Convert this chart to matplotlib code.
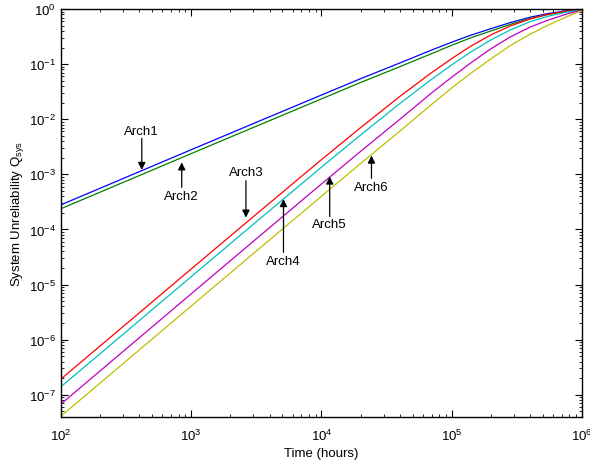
import numpy as np
import matplotlib
matplotlib.use("Agg")
import matplotlib.pyplot as plt

plt.rcParams['font.family'] = ['Liberation Sans', 'DejaVu Sans']
plt.rcParams['mathtext.fontset'] = 'custom'
plt.rcParams['mathtext.rm'] = 'Liberation Sans'
plt.rcParams['mathtext.it'] = 'Liberation Sans:italic'

# time points (hours) and unreliability values
hours = [1e2, 1e3, 3e3, 1e4, 2e4, 4e4, 7e4, 1e5, 1.4e5, 2e5, 2.8e5, 4e5, 5.5e5, 7.5e5, 1e6]

arch1 = [2.8e-4, 2.8e-3, 8.35e-3, 2.75e-2, 5.45e-2, 0.105, 0.18, 0.25, 0.335, 0.44, 0.565, 0.71, 0.83, 0.925, 0.98]
arch2 = [2.38e-4, 2.38e-3, 7.1e-3, 2.34e-2, 4.65e-2, 0.09, 0.155, 0.22, 0.30, 0.40, 0.525, 0.675, 0.80, 0.91, 0.975]
arch3 = [1.93e-7, 1.92e-5, 1.71e-4, 1.85e-3, 7.06e-3, 0.026, 0.070, 0.126, 0.212, 0.34, 0.49, 0.66, 0.80, 0.91, 0.985]
arch4 = [1.40e-7, 1.39e-5, 1.245e-4, 1.35e-3, 5.2e-3, 0.0193, 0.053, 0.097, 0.166, 0.275, 0.415, 0.59, 0.74, 0.87, 0.975]
arch5 = [6.8e-8, 6.8e-6, 6.1e-5, 6.7e-4, 2.62e-3, 0.010, 0.030, 0.058, 0.105, 0.19, 0.31, 0.47, 0.63, 0.80, 0.96]
arch6 = [4.1e-8, 4.08e-6, 3.66e-5, 4.0e-4, 1.58e-3, 6.1e-3, 0.0185, 0.037, 0.068, 0.125, 0.215, 0.35, 0.51, 0.71, 0.94]

series = [arch1, arch2, arch3, arch4, arch5, arch6]
colors = ['#0000ff', '#008000', '#ff0000', '#00bfbf', '#bf00bf', '#bfbf00']

# label text position, arrow tail, arrow tip (data coords)
labels = ['Arch1', 'Arch2', 'Arch3', 'Arch4', 'Arch5', 'Arch6']
label_t = [417, 845, 2630, 5107, 1.156e4, 2.42e4]
label_q = [6.18e-3, 3.99e-4, 1.09e-3, 2.70e-5, 1.23e-4, 5.81e-4]
tail_q = [4.5e-3, 5.81e-4, 7.66e-4, 3.84e-5, 1.71e-4, 8.46e-4]
tip_q = [1.2e-3, 1.65e-3, 1.64e-4, 3.56e-4, 9.12e-4, 2.19e-3]

fig = plt.figure(figsize=(5.9, 4.64), dpi=100)
ax = fig.add_axes([0.1034, 0.0998, 0.883, 0.8786])

for vals, c in zip(series, colors):
    ax.loglog(hours, vals, color=c, lw=0.9)

for lab, t, lq, aq, pq in zip(labels, label_t, label_q, tail_q, tip_q):
    ax.text(t, lq, lab, ha='center', va='center', fontsize=9.5)
    ax.annotate('', xy=(t, pq), xytext=(t, aq),
                arrowprops=dict(arrowstyle='-|>', color='k', lw=0.9,
                                mutation_scale=11, shrinkA=0, shrinkB=0))

ax.set_xlim(1e2, 1e6)
ax.set_ylim(4e-8, 1)
ax.set_xlabel('Time (hours)', fontsize=9.5, labelpad=3)
ax.set_ylabel('System Unreliability Q$_{\\mathrm{sys}}$', fontsize=9.5, labelpad=2)

ax.tick_params(which='both', direction='in', top=True, right=True, labelsize=9.5)
ax.tick_params(which='major', length=5, width=0.8)
ax.tick_params(which='minor', length=2.5, width=0.6)
ax.tick_params(axis='x', pad=8)
for s in ax.spines.values():
    s.set_linewidth(1.0)

fig.savefig('out.png', dpi=100)
